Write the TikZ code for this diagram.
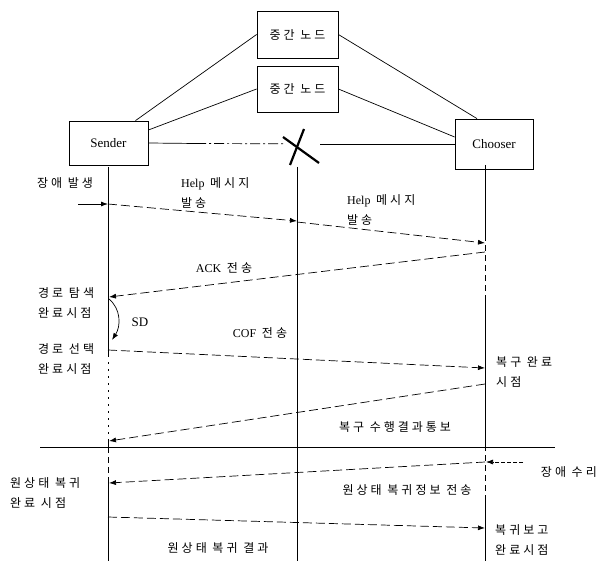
\documentclass[tikz,border=0pt]{standalone}
\usepackage{fontspec}
\setmainfont{Liberation Serif}
\newfontfamily\kr[LetterSpace=25]{Noto Sans CJK KR}
\usetikzlibrary{arrows.meta}
\begin{document}
\begin{tikzpicture}[x=1pt,y=-1pt,
  box/.style={draw,line width=0.8pt,inner sep=0pt,font=\fontsize{13}{15}\selectfont},
  life/.style={line width=0.9pt},
  lifedot/.style={line width=0.9pt,dash pattern=on 2pt off 5pt},
  lifedash/.style={line width=0.9pt,dash pattern=on 6pt off 4pt},
  link/.style={line width=0.7pt},
  msg/.style={line width=0.7pt,dash pattern=on 9pt off 4pt,-{Latex[length=7pt,width=5pt]}},
  lbl/.style={inner sep=0pt,font=\kr\fontsize{12}{14}\selectfont},
  lbltwo/.style={inner sep=0pt,align=left,font=\kr\fontsize{12}{20}\selectfont},
  cross/.style={line width=2.2pt},
]
\useasboundingbox (0,0) rectangle (601,561);

% ---- top network ----
\node[box,minimum width=81pt,minimum height=47pt] (m1) at (297.5,34.5) {\kr\fontsize{12}{14}\selectfont 중간 노드};
\node[box,minimum width=81pt,minimum height=46pt] (m2) at (297.5,89) {\kr\fontsize{12}{14}\selectfont 중간 노드};
\node[box,minimum width=79pt,minimum height=44pt] (snd) at (108.5,143) {Sender};
\node[box,minimum width=78pt,minimum height=50pt] (cho) at (494,144) {Chooser};

\draw[link] ([xshift=27pt]snd.north) -- (m1.west);
\draw[link] ([yshift=13pt]snd.east) -- (m2.west);
\draw[link] (m1.east) -- ([xshift=-17pt]cho.north);
\draw[link] (m2.east) -- ([yshift=7pt]cho.west);
\coordinate (g1) at (196,143.5);
\coordinate (g2) at (284,143.8);
\coordinate (g3) at (320,144);
\draw[link] (snd.east) -- (g1);
\draw[link,dash pattern=on 10pt off 3pt on 2pt off 3pt] (g1) -- (g2);
\draw[link] (g3) -- (cho.west);
\coordinate (x1) at (283,137);
\coordinate (x2) at (319,163);
\coordinate (x3) at (304,129);
\coordinate (x4) at (290,165);
\draw[cross] (x1) -- (x2);
\draw[cross] (x3) -- (x4);

% ---- lifelines ----
\coordinate (La) at (108,167);
\coordinate (Lb) at (108,355);
\coordinate (Lc) at (108,440);
\coordinate (Ld) at (108,447);
\coordinate (Le) at (108,478);
\coordinate (Lf) at (108,561);
\draw[life] (La) -- (Lb);
\draw[lifedot] (Lb) -- (Lc);
\draw[life] (Lc) -- (Ld);
\draw[lifedash] (Ld) -- (Le);
\draw[life] (Le) -- (Lf);

\coordinate (Ma) at (297,167);
\coordinate (Mb) at (297,561);
\draw[life] (Ma) -- (Mb);

\coordinate (Ra) at (485,165);
\coordinate (Rb) at (485,235);
\coordinate (Rc) at (485,300);
\coordinate (Rd) at (485,445);
\coordinate (Re) at (485,495);
\coordinate (Rf) at (485,561);
\draw[life] (Ra) -- (Rb);
\draw[lifedash] (Rb) -- (Rc);
\draw[life] (Rc) -- (Rd);
\draw[lifedash] (Rd) -- (Re);
\draw[life] (Re) -- (Rf);

% horizontal separator
\coordinate (h1) at (40,447);
\coordinate (h2) at (555,447);
\draw[line width=0.8pt] (h1) -- (h2);

% ---- messages ----
\coordinate (f0) at (78,204);
\coordinate (f1) at (108,204);
\draw[line width=0.8pt,-{Latex[length=7pt,width=5pt]}] (f0) -- (f1);

\coordinate (p1) at (297,221);
\draw[msg] (f1) -- (p1);
\coordinate (p2) at (297,222);
\coordinate (p3) at (485,243);
\draw[msg] (p2) -- (p3);

\coordinate (k1) at (485,252);
\coordinate (k2) at (109,297);
\draw[msg] (k1) -- (k2);

\coordinate (sd1) at (109,299);
\coordinate (sd2) at (112,340);
\draw[line width=0.7pt,-{Latex[length=7pt,width=5pt]}] (sd1) .. controls (121,309) and (121,326) .. (sd2);

\coordinate (c1) at (108,350);
\coordinate (c2) at (485,368);
\draw[msg] (c1) -- (c2);

\coordinate (r1) at (485,384);
\coordinate (r2) at (109,441);
\draw[msg] (r1) -- (r2);

\coordinate (q0) at (523,462);
\coordinate (q1) at (486,462);
\draw[line width=0.7pt,dash pattern=on 4pt off 2pt,-{Latex[length=7pt,width=5pt]}] (q0) -- (q1);

\coordinate (o1) at (485,462);
\coordinate (o2) at (109,483);
\draw[msg] (o1) -- (o2);

\coordinate (w1) at (108,517);
\coordinate (w2) at (485,528);
\draw[msg] (w1) -- (w2);

% ---- labels ----
\node[lbl] (t1) at (65,183) {장애 발생};
\node[lbltwo,anchor=west] (t2) at (181,193) {{\rmfamily Help} 메시지\\발송};
\node[lbltwo,anchor=west] (t3) at (347,210) {{\rmfamily Help} 메시지\\발송};
\node[lbl] (t4) at (224,268) {{\rmfamily ACK} 전송};
\node[lbltwo,anchor=west] (t5) at (38,303) {경로 탐색\\완료시점};
\node[inner sep=0pt,font=\fontsize{13}{15}\selectfont] (t6) at (140,322) {SD};
\node[lbltwo,anchor=west] (t7) at (38,359) {경로 선택\\완료시점};
\node[lbl] (t8) at (260,333) {{\rmfamily COF} 전송};
\node[lbltwo,anchor=west] (t9) at (496,372) {복구 완료\\시점};
\node[lbl] (t10) at (395,427) {복구 수행결과통보};
\node[lbl,anchor=east] (t11) at (597,472) {장애 수리};
\node[lbltwo,anchor=west] (t12) at (10,493) {원상태 복귀\\완료 시점};
\node[lbl] (t13) at (407,490) {원상태 복귀정보 전송};
\node[lbl] (t14) at (218,548) {원상태 복귀 결과};
\node[lbltwo,anchor=west] (t15) at (495,540) {복귀보고\\완료시점};
\end{tikzpicture}
\end{document}
